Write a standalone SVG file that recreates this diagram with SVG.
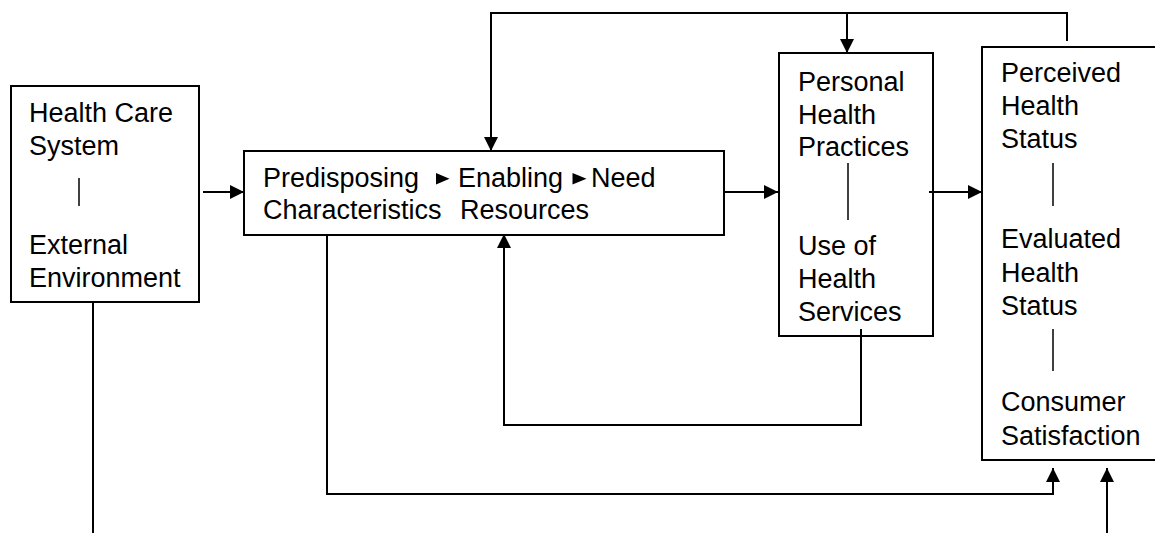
<svg xmlns="http://www.w3.org/2000/svg" width="1155" height="533" viewBox="0 0 1155 533">
<style>
.box{fill:#fff;stroke:#000;stroke-width:2}
.t{font-family:"Liberation Sans",Arial,sans-serif;font-size:27px;fill:#000}
.ln{fill:none;stroke:#000;stroke-width:2}
.sep{stroke:#000;stroke-width:1.5}
</style>
<defs>
<marker id="ah" markerWidth="14" markerHeight="14" viewBox="0 0 14 14" refX="14" refY="7" orient="auto" markerUnits="userSpaceOnUse">
<path d="M0,0 L14,7 L0,14 Z" fill="#000"/>
</marker>
</defs>
<rect width="1155" height="533" fill="#fff"/>
<g id="node-health-care-system">
<rect class="box" x="11" y="86" width="188" height="216"/>
<text class="t" x="29" y="122">Health Care</text>
<text class="t" x="29" y="155">System</text>
<line class="sep" x1="79" y1="178" x2="79" y2="206"/>
<text class="t" x="29" y="254">External</text>
<text class="t" x="29" y="287">Environment</text>
</g>
<g id="node-characteristics">
<rect class="box" x="244" y="151" width="480" height="84"/>
<text class="t" x="263" y="187">Predisposing</text>
<text class="t" x="263" y="219">Characteristics</text>
<polygon points="436,173 449.5,178.8 436,184.5" fill="#000"/>
<text class="t" x="458" y="187">Enabling</text>
<text class="t" x="460" y="219">Resources</text>
<polygon points="572.5,173 586.5,178.8 572.5,184.5" fill="#000"/>
<text class="t" x="591" y="187">Need</text>
</g>
<g id="node-health-behavior">
<rect class="box" x="779" y="53" width="154" height="283"/>
<text class="t" x="798" y="91">Personal</text>
<text class="t" x="798" y="124">Health</text>
<text class="t" x="798" y="156">Practices</text>
<line class="sep" x1="848" y1="163" x2="848" y2="220"/>
<text class="t" x="798" y="255">Use of</text>
<text class="t" x="798" y="288">Health</text>
<text class="t" x="798" y="321">Services</text>
</g>
<g id="node-outcomes">
<rect class="box" x="982" y="47" width="190" height="413"/>
<text class="t" x="1001" y="82">Perceived</text>
<text class="t" x="1001" y="115">Health</text>
<text class="t" x="1001" y="148">Status</text>
<line class="sep" x1="1053" y1="163" x2="1053" y2="206"/>
<text class="t" x="1001" y="248">Evaluated</text>
<text class="t" x="1001" y="282">Health</text>
<text class="t" x="1001" y="315">Status</text>
<line class="sep" x1="1053" y1="329" x2="1053" y2="371"/>
<text class="t" x="1001" y="411">Consumer</text>
<text class="t" x="1001" y="445">Satisfaction</text>
</g>
<g id="connectors">
<line class="ln" x1="203" y1="192" x2="244" y2="192" marker-end="url(#ah)"/>
<line class="ln" x1="724" y1="192" x2="778" y2="192" marker-end="url(#ah)"/>
<line class="ln" x1="929" y1="192" x2="982" y2="192" marker-end="url(#ah)"/>
<polyline class="ln" points="1067,41 1067,13 491,13 491,151" marker-end="url(#ah)"/>
<line class="ln" x1="847" y1="13" x2="847" y2="53" marker-end="url(#ah)"/>
<polyline class="ln" points="861,329 861,425 504,425 504,234" marker-end="url(#ah)"/>
<polyline class="ln" points="327,235 327,494 1053,494 1053,468" marker-end="url(#ah)"/>
<line class="ln" x1="1107" y1="533" x2="1107" y2="468" marker-end="url(#ah)"/>
<line class="ln" x1="93" y1="302" x2="93" y2="533"/>
</g>
</svg>
